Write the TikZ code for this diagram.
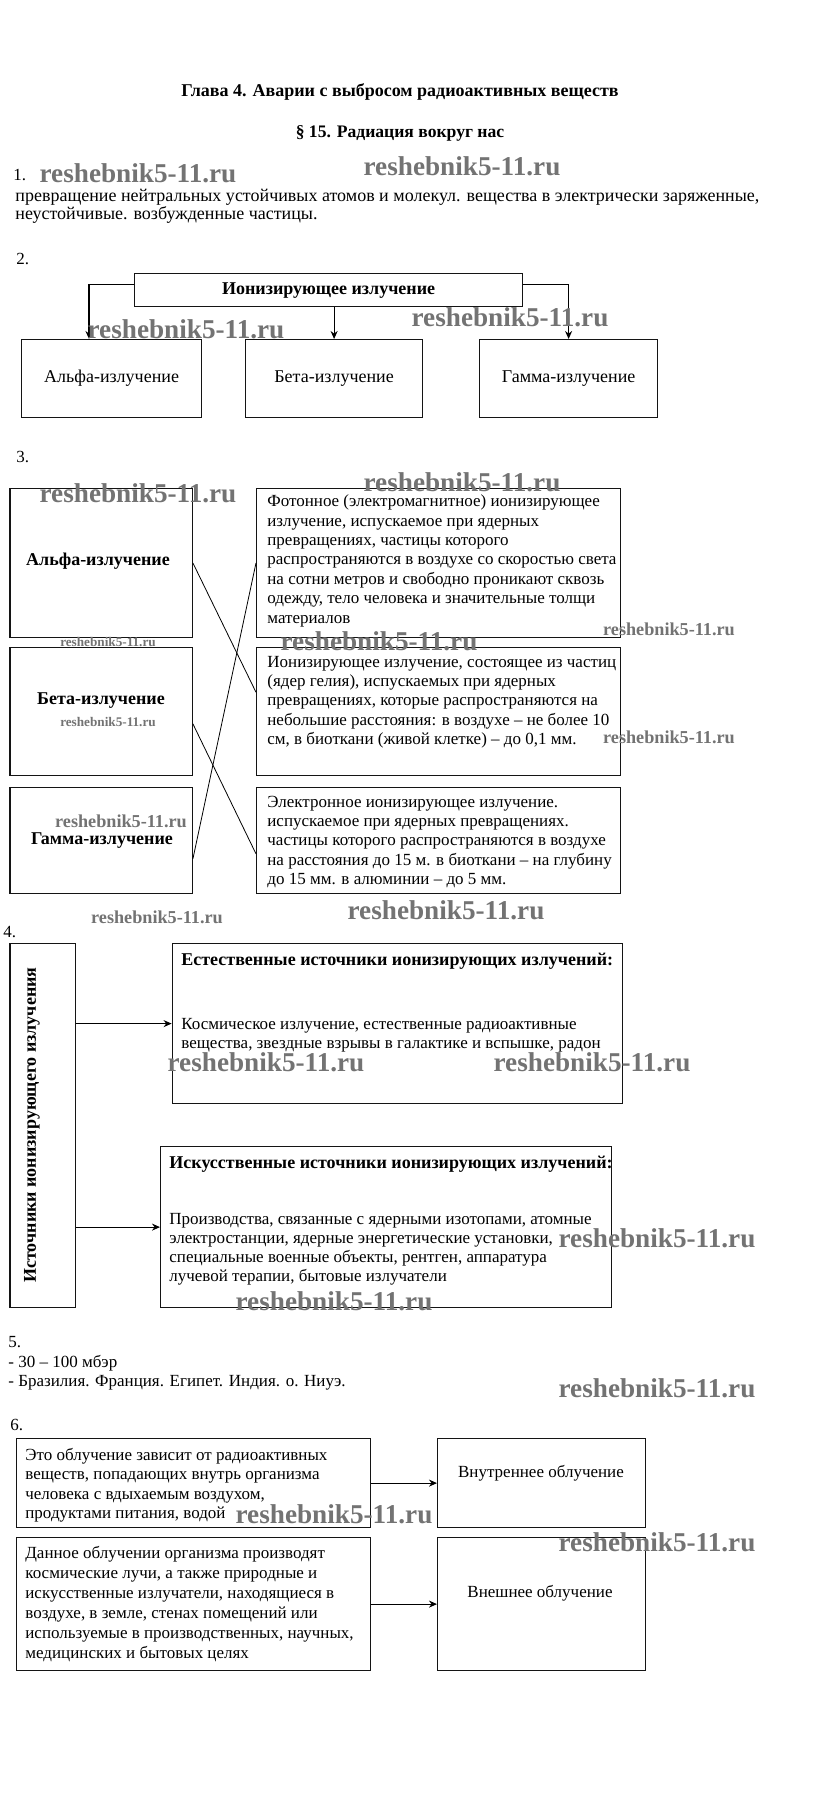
\documentclass[tikz,border=0pt]{standalone}
\usepackage{fontspec}
\setmainfont{Liberation Serif}
\usetikzlibrary{arrows.meta,positioning,calc}
\definecolor{wmgray}{RGB}{115,115,115}
\definecolor{boxline}{RGB}{20,20,20}

\begin{document}
\begin{tikzpicture}[x=0.5pt, y=-0.5pt,
    every node/.style={inner sep=0pt, font=\fontsize{8.5}{9.7}\selectfont},
    box/.style={draw=boxline, line width=0.6pt, anchor=north west},
    txt/.style={anchor=north west, align=left},
    lbl/.style={font=\fontsize{9}{10}\selectfont},
    hdr/.style={font=\fontsize{9}{10}\selectfont\bfseries},
    wmark/.style={text=wmgray},
    arr/.style={line width=0.6pt, -{Stealth[length=4pt,width=3.5pt]}},
    link/.style={line width=0.4pt}]
  \fill[white] (0,0) rectangle (823,1815);
  \useasboundingbox (0,0) rectangle (823,1815);

  % Header
  \node[font=\fontsize{9}{11}\selectfont\bfseries] (title) at (400,92)
    {Глава 4. Аварии с выбросом радиоактивных веществ};
  \node[font=\fontsize{8.8}{11}\selectfont\bfseries] (para) at (400,133)
    {§ 15. Радиация вокруг нас};

  % 1.
  \node[anchor=west] (n1) at (13,175) {1.};
  \node[txt, font=\fontsize{9}{9}\selectfont] (defn) at (15,189)
    {превращение нейтральных устойчивых атомов и молекул. вещества в электрически заряженные,\\
     неустойчивые. возбужденные частицы.};

  % 2.
  \node[anchor=west] (n2) at (16,259) {2.};
  \node[box, minimum width=194pt, minimum height=16.5pt, hdr] (ion) at (134,273)
    {Ионизирующее излучение};
  \node[box, minimum width=90pt, minimum height=39pt, lbl] (al2) at (21,339) {Альфа-излучение};
  \node[box, minimum width=88.5pt, minimum height=39pt, lbl] (bt2) at (245,339) {Бета-излучение};
  \node[box, minimum width=89pt, minimum height=39pt, lbl] (gm2) at (479,339) {Гамма-излучение};
  \draw[arr] ([yshift=2.75pt]ion.west) -| ([xshift=34pt]al2.north west);
  \draw[arr] (bt2.north |- ion.south) -- (bt2.north);
  \draw[arr] ([yshift=2.75pt]ion.east) -| (gm2.north);

  % 3.
  \node[anchor=west] (n3) at (16,457) {3.};
  \node[box, minimum width=91.2pt, minimum height=74.35pt] (a3) at (9.3,488) {};
  \node[box, minimum width=91.2pt, minimum height=64.15pt] (b3) at (9.3,646.7) {};
  \node[box, minimum width=91.2pt, minimum height=53.15pt] (g3) at (9.3,786.7) {};
  \node[hdr] (a3l) at (98,561) {Альфа-излучение};
  \node[hdr] (b3l) at (101,701) {Бета-излучение};
  \node[hdr] (g3l) at (102,841) {Гамма-излучение};
  \node[box, minimum width=182pt, minimum height=74.35pt] (r1) at (256,488) {};
  \node[box, minimum width=182pt, minimum height=64.15pt] (r2) at (256,646.7) {};
  \node[box, minimum width=182pt, minimum height=53.15pt] (r3) at (256,786.7) {};
  \node[txt] (r1t) at (267,494.5)
    {Фотонное (электромагнитное) ионизирующее\\
     излучение, испускаемое при ядерных\\
     превращениях, частицы которого\\
     распространяются в воздухе со скоростью света\\
     на сотни метров и свободно проникают сквозь\\
     одежду, тело человека и значительные толщи\\
     материалов};
  \node[txt] (r2t) at (267,655.5)
    {Ионизирующее излучение, состоящее из частиц\\
     (ядер гелия), испускаемых при ядерных\\
     превращениях, которые распространяются на\\
     небольшие расстояния: в воздухе – не более 10\\
     см, в биоткани (живой клетке) – до 0,1 мм.};
  \node[txt] (r3t) at (267,795.5)
    {Электронное ионизирующее излучение.\\
     испускаемое при ядерных превращениях.\\
     частицы которого распространяются в воздухе\\
     на расстояния до 15 м. в биоткани – на глубину\\
     до 15 мм. в алюминии – до 5 мм.};
  \draw[link] (a3.east) -- ([yshift=9.6pt]r2.west);
  \draw[link] ([yshift=-6.2pt]b3.east) -- ([yshift=-6.7pt]r3.west);
  \draw[link] ([yshift=-9.2pt]g3.east) -- (r1.west);

  % 4.
  \node[anchor=west] (n4) at (3,932) {4.};
  \node[box, minimum width=32.55pt, minimum height=182pt] (src) at (9.4,943) {};
  \node[hdr, rotate=90] (srct) at (32,1125) {Источники ионизирующего излучения};
  \node[box, minimum width=225pt, minimum height=80pt] (nat) at (171.6,943) {};
  \node[box, minimum width=225.5pt, minimum height=80.5pt] (art) at (160,1146) {};
  \node[txt, hdr] (natH) at (181,952.5) {Естественные источники ионизирующих излучений:};
  \node[txt, font=\fontsize{8.5}{9.5}\selectfont] (natT) at (181,1017.5)
    {Космическое излучение, естественные радиоактивные\\
     вещества, звездные взрывы в галактике и вспышке, радон};
  \node[txt, hdr] (artH) at (169,1155.5) {Искусственные источники ионизирующих излучений:};
  \node[txt, font=\fontsize{8.5}{9.5}\selectfont] (artT) at (169,1212.5)
    {Производства, связанные с ядерными изотопами, атомные\\
     электростанции, ядерные энергетические установки,\\
     специальные военные объекты, рентген, аппаратура\\
     лучевой терапии, бытовые излучатели};
  \draw[arr] (src.east |- nat.west) -- (nat.west);
  \draw[arr] (src.east |- art.west) -- (art.west);

  % 5.
  \node[anchor=west] (n5) at (8,1342) {5.};
  \node[anchor=west] (dose) at (8,1363) {- 30 – 100 мбэр};
  \node[anchor=west] (ctry) at (8,1383) {- Бразилия. Франция. Египет. Индия. о. Ниуэ.};

  % 6.
  \node[anchor=west] (n6) at (10,1425) {6.};
  \node[box, minimum width=177.15pt, minimum height=44.5pt] (ib) at (15.7,1438) {};
  \node[box, minimum width=104pt, minimum height=44.5pt] (ir) at (437,1438) {};
  \node[box, minimum width=177.15pt, minimum height=66.5pt] (eb) at (15.7,1537) {};
  \node[box, minimum width=104pt, minimum height=66.5pt] (er) at (437,1537) {};
  \node[txt, font=\fontsize{8.5}{9.8}\selectfont] (ibt) at (25,1447.5)
    {Это облучение зависит от радиоактивных\\
     веществ, попадающих внутрь организма\\
     человека с вдыхаемым воздухом,\\
     продуктами питания, водой};
  \node[txt, font=\fontsize{8.5}{10}\selectfont] (ebt) at (25,1545.5)
    {Данное облучении организма производят\\
     космические лучи, а также природные и\\
     искусственные излучатели, находящиеся в\\
     воздухе, в земле, стенах помещений или\\
     используемые в производственных, научных,\\
     медицинских и бытовых целях};
  \node (irl) at (541,1473) {Внутреннее облучение};
  \node (erl) at (540,1593) {Внешнее облучение};
  \draw[arr] (ib) -- (ir);
  \draw[arr] (eb) -- (er);

  % Watermarks
  \foreach \x/\y/\s [count=\i] in {138/173/13.6, 462/166/13.6, 186/329/13.6, 510/317/13.6,
      138/493/13.6, 462/482/13.6, 108/642/6.6, 379/641/13.6, 669/629/9.1, 108/722/6.6,
      669/737/9.1, 121/821/9.1, 446/910/13.6, 157/917/9.1, 266/1062/13.6, 592/1062/13.6,
      657/1238/13.6, 334/1301/13.6, 657/1388/13.6, 334/1514/13.6, 657/1542/13.6}
    \node[wmark, font=\fontsize{\s}{\s}\selectfont\bfseries] (wm\i) at (\x,\y) {reshebnik5-11.ru};
\end{tikzpicture}
\end{document}
